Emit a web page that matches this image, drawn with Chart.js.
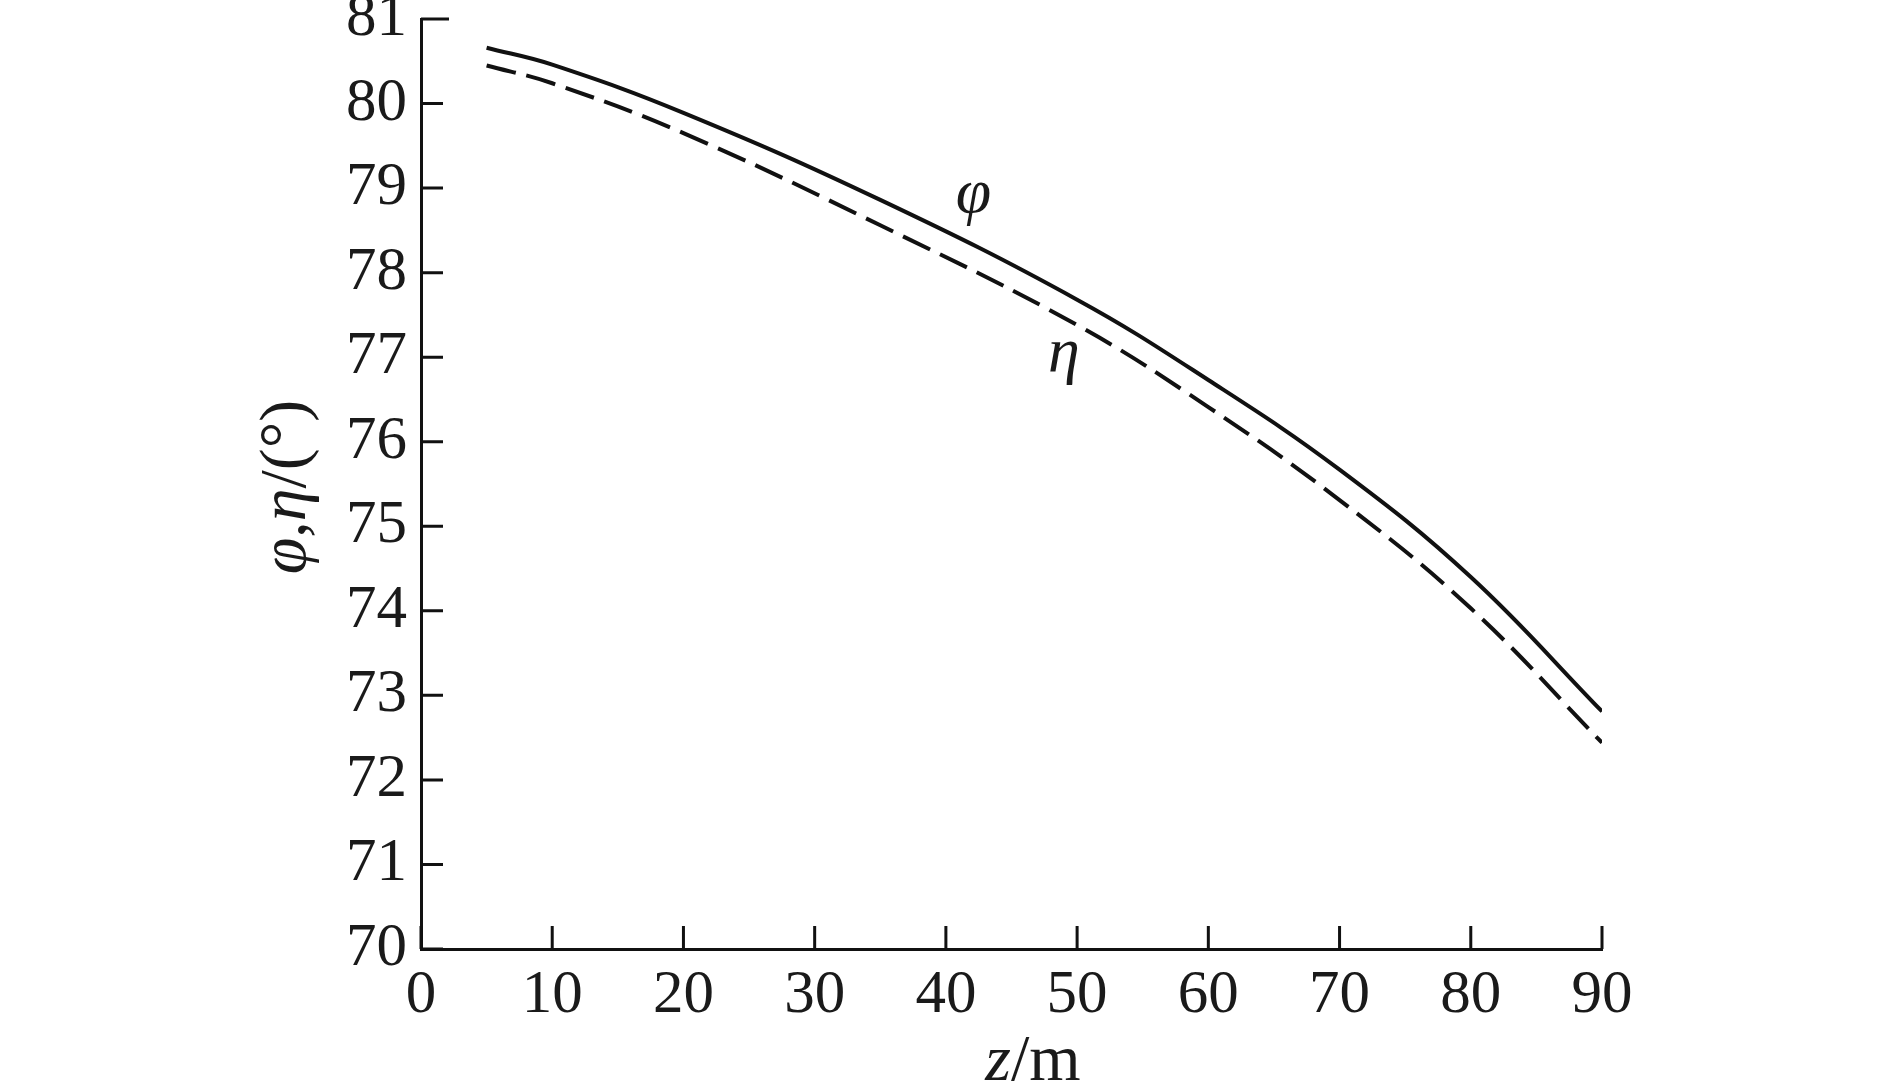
<!DOCTYPE html>
<html>
<head>
<meta charset="utf-8">
<script src="https://cdn.jsdelivr.net/npm/chart.js@4/dist/chart.umd.min.js"></script>
<style>
  body { margin: 0; background: #fff; }
  #wrap { width: 1889px; height: 1085px; }
</style>
</head>
<body>
<div id="wrap"><canvas id="myChart"></canvas></div>
<script>
// depth z (m) and angles
const zValues = [5, 10, 20, 35, 50, 60, 70, 80, 90];
const phiValues = [80.66, 80.46, 79.89, 78.86, 77.68, 76.73, 75.67, 74.40, 72.81];
const etaValues = [80.45, 80.24, 79.65, 78.56, 77.38, 76.41, 75.31, 74.03, 72.44];
const xTicks = [0, 10, 20, 30, 40, 50, 60, 70, 80, 90];
const yTicks = [70, 71, 72, 73, 74, 75, 76, 77, 78, 79, 80, 81];

const serif = '"Liberation Serif", "DejaVu Serif", serif';

// curve labels, in data units
const curveLabels = [
    { text: 'φ', z: 42.1, v: 78.86 },
    { text: 'η', z: 49.0, v: 76.98 }
];

// draws text made of pieces, some italic
function richText(ctx, pieces, x, y, size) {
    let total = 0;
    pieces.forEach(p => {
        ctx.font = (p.i ? 'italic ' : '') + size + 'px ' + serif;
        p.w = ctx.measureText(p.t).width;
        total += p.w;
    });
    let cx = x - total / 2;
    pieces.forEach(p => {
        ctx.font = (p.i ? 'italic ' : '') + size + 'px ' + serif;
        ctx.fillText(p.t, cx, y);
        cx += p.w;
    });
}

const extras = {
    id: 'extras',
    afterDraw(chart) {
        const ctx = chart.ctx;
        const xs = chart.scales.x, ys = chart.scales.y;
        const area = chart.chartArea;
        ctx.save();
        // inward ticks
        ctx.strokeStyle = '#111';
        ctx.lineWidth = 3;
        ctx.beginPath();
        yTicks.forEach(v => {
            const py = ys.getPixelForValue(v);
            ctx.moveTo(area.left, py);
            ctx.lineTo(area.left + (v === 81 ? 28 : 22), py);
        });
        xTicks.forEach(v => {
            const px = xs.getPixelForValue(v);
            ctx.moveTo(px, area.bottom);
            ctx.lineTo(px, area.bottom - 23);
        });
        ctx.stroke();

        ctx.fillStyle = '#1a1a1a';
        ctx.textBaseline = 'alphabetic';
        // curve labels
        curveLabels.forEach(l => {
            ctx.font = 'italic 64px ' + serif;
            ctx.textAlign = 'center';
            ctx.fillText(l.text, xs.getPixelForValue(l.z), ys.getPixelForValue(l.v) + 12);
        });
        ctx.textAlign = 'left';
        // x axis title
        richText(ctx, [{ t: 'z', i: true }, { t: '/m' }], 1033, 1080, 66);
        // y axis title
        ctx.translate(305, 487);
        ctx.rotate(-Math.PI / 2);
        richText(ctx, [{ t: 'φ', i: true }, { t: ',' }, { t: 'η', i: true }, { t: '/(°)' }], 0, 0, 66);
        ctx.restore();
    }
};

const data = {
    datasets: [{
        label: 'φ',
        data: zValues.map((z, i) => ({ x: z, y: phiValues[i] })),
        borderColor: '#111',
        borderWidth: 4,
        pointRadius: 0,
        fill: false,
        tension: 0.4
    }, {
        label: 'η',
        data: zValues.map((z, i) => ({ x: z, y: etaValues[i] })),
        borderColor: '#111',
        borderWidth: 4,
        borderDash: [30, 11],
        pointRadius: 0,
        fill: false,
        tension: 0.4
    }]
};

const config = {
    type: 'line',
    data: data,
    options: {
        responsive: true,
        maintainAspectRatio: false,
        animation: false,
        layout: { padding: { left: 0, right: 287, top: 19, bottom: 0 } },
        plugins: {
            legend: { display: false },
            tooltip: { enabled: false }
        },
        scales: {
            x: {
                type: 'linear',
                min: 0,
                max: 90,
                afterBuildTicks: scale => { scale.ticks = xTicks.map(v => ({ value: v })); },
                afterFit: scale => {
                    scale.height = 136;
                    scale.paddingLeft = 0;
                    scale.paddingRight = 0;
                },
                grid: { display: false, drawTicks: false },
                border: { display: true, color: '#111', width: 3 },
                ticks: {
                    color: '#1a1a1a',
                    padding: 10,
                    maxRotation: 0,
                    font: { family: serif, size: 61 }
                }
            },
            y: {
                min: 70,
                max: 81,
                afterBuildTicks: scale => { scale.ticks = yTicks.map(v => ({ value: v })); },
                afterFit: scale => {
                    scale.width = 421;
                    scale.paddingTop = 0;
                    scale.paddingBottom = 0;
                },
                grid: { display: false, drawTicks: false },
                border: { display: true, color: '#111', width: 3 },
                ticks: {
                    color: '#1a1a1a',
                    padding: 14,
                    font: { family: serif, size: 61 }
                }
            }
        }
    },
    plugins: [extras]
};

var myChart = new Chart(
    document.getElementById('myChart'),
    config
);
</script>
</body>
</html>
